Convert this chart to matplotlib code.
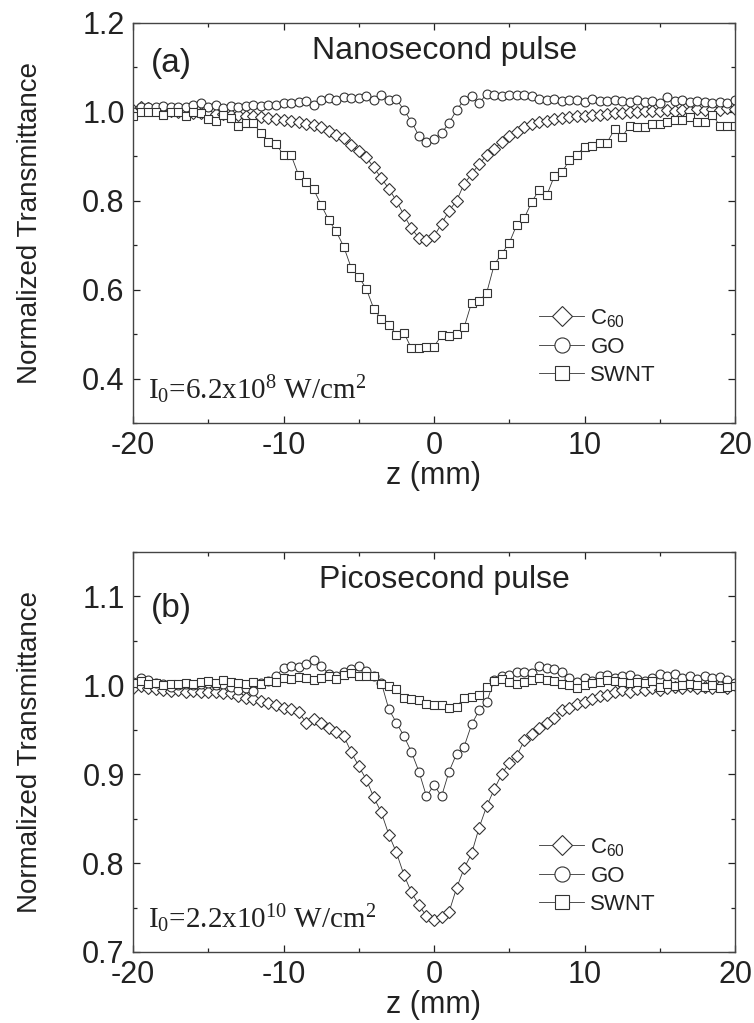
import numpy as np
import matplotlib
matplotlib.use("Agg")
import matplotlib.pyplot as plt
from matplotlib.ticker import MultipleLocator, FormatStrFormatter

# ---------------- data ----------------
z = np.linspace(-20, 20, 81)  # mm, 0.5 mm steps

# (a) nanosecond pulse
c60_a = [1.005, 1.012, 1.008, 1.005, 1.003, 1.002, 1.000, 1.000, 0.998, 0.998,
         0.996, 0.995, 0.995, 0.993, 0.992, 0.990, 0.990, 0.988, 0.986, 0.985,
         0.982, 0.980, 0.978, 0.973, 0.970, 0.966, 0.957, 0.948, 0.941, 0.925,
         0.912, 0.898, 0.875, 0.851, 0.827, 0.800, 0.768, 0.738, 0.716, 0.712,
         0.720, 0.748, 0.778, 0.800, 0.838, 0.860, 0.883, 0.902, 0.917, 0.932,
         0.945, 0.955, 0.965, 0.972, 0.977, 0.980, 0.984, 0.986, 0.988, 0.990,
         0.991, 0.993, 0.994, 0.996, 0.997, 0.998, 0.999, 1.000, 1.001, 1.002,
         1.002, 1.004, 1.002, 1.005, 1.003, 1.006, 1.004, 1.006, 1.005, 1.008,
         1.006]
go_a = [1.000, 1.010, 1.012, 1.010, 1.013, 1.010, 1.012, 1.010, 1.015, 1.021,
        1.012, 1.016, 1.008, 1.013, 1.012, 1.013, 1.015, 1.013, 1.016, 1.015,
        1.020, 1.020, 1.023, 1.025, 1.015, 1.027, 1.031, 1.027, 1.033, 1.031,
        1.031, 1.036, 1.027, 1.038, 1.027, 1.029, 1.004, 0.978, 0.946, 0.933,
        0.939, 0.952, 0.975, 1.004, 1.027, 1.036, 1.019, 1.041, 1.038, 1.036,
        1.038, 1.038, 1.038, 1.036, 1.030, 1.027, 1.030, 1.025, 1.027, 1.027,
        1.023, 1.030, 1.025, 1.025, 1.027, 1.025, 1.023, 1.027, 1.022, 1.025,
        1.020, 1.033, 1.025, 1.027, 1.023, 1.025, 1.022, 1.020, 1.023, 1.020,
        1.027]
swnt_a = [0.990, 1.000, 1.000, 1.000, 0.993, 1.000, 1.000, 0.990, 1.000, 0.998,
          0.984, 0.980, 0.993, 0.986, 0.968, 0.974, 0.974, 0.953, 0.933, 0.928,
          0.903, 0.903, 0.858, 0.843, 0.826, 0.791, 0.757, 0.731, 0.697, 0.649,
          0.629, 0.602, 0.557, 0.534, 0.521, 0.499, 0.503, 0.468, 0.468, 0.470,
          0.472, 0.497, 0.495, 0.500, 0.515, 0.571, 0.574, 0.593, 0.656, 0.681,
          0.705, 0.746, 0.761, 0.798, 0.825, 0.813, 0.856, 0.864, 0.892, 0.903,
          0.922, 0.924, 0.930, 0.931, 0.961, 0.944, 0.969, 0.967, 0.967, 0.973,
          0.973, 0.978, 0.982, 0.982, 0.989, 0.978, 0.978, 0.993, 0.969, 0.969,
          0.969]

# (b) picosecond pulse
c60_b = [0.997, 0.999, 0.997, 0.996, 0.995, 0.994, 0.995, 0.993, 0.994, 0.992,
         0.992, 0.992, 0.991, 0.991, 0.988, 0.986, 0.985, 0.982, 0.980, 0.978,
         0.974, 0.973, 0.970, 0.958, 0.962, 0.958, 0.952, 0.947, 0.943, 0.925,
         0.909, 0.894, 0.874, 0.857, 0.832, 0.812, 0.787, 0.767, 0.753, 0.740,
         0.736, 0.739, 0.745, 0.772, 0.794, 0.811, 0.840, 0.864, 0.883, 0.900,
         0.913, 0.921, 0.938, 0.945, 0.952, 0.958, 0.963, 0.972, 0.975, 0.979,
         0.981, 0.985, 0.988, 0.989, 0.992, 0.995, 0.993, 0.996, 0.995, 0.997,
         0.995, 0.997, 0.998, 0.997, 0.999, 0.997, 0.998, 0.997, 0.999, 0.997,
         1.000]
go_b = [1.004, 1.008, 1.006, 1.003, 1.002, 0.998, 1.000, 1.001, 1.000, 1.001,
        1.003, 1.000, 1.002, 0.998, 0.995, 0.997, 0.994, 1.003, 1.005, 1.010,
        1.020, 1.022, 1.021, 1.024, 1.028, 1.022, 1.013, 1.010, 1.015, 1.018,
        1.022, 1.016, 1.010, 1.003, 0.973, 0.958, 0.943, 0.925, 0.903, 0.875,
        0.888, 0.875, 0.903, 0.923, 0.931, 0.956, 0.972, 0.981, 1.006, 1.010,
        1.012, 1.015, 1.015, 1.014, 1.022, 1.019, 1.018, 1.015, 1.008, 1.004,
        1.008, 1.005, 1.010, 1.012, 1.008, 1.010, 1.012, 1.007, 1.005, 1.008,
        1.013, 1.010, 1.013, 1.008, 1.010, 1.007, 1.011, 1.008, 1.009, 1.006,
        1.003]
swnt_b = [1.003, 1.005, 1.002, 1.003, 1.000, 1.002, 1.001, 1.003, 1.001, 1.004,
          1.005, 1.003, 1.006, 1.004, 1.003, 1.002, 1.004, 1.002, 1.005, 1.004,
          1.008, 1.007, 1.009, 1.008, 1.006, 1.008, 1.010, 1.007, 1.012, 1.014,
          1.011, 1.010, 1.010, 1.002, 0.999, 0.996, 0.986, 0.985, 0.983, 0.979,
          0.978, 0.978, 0.975, 0.976, 0.986, 0.987, 0.989, 0.998, 1.005, 1.007,
          1.004, 1.002, 1.004, 1.006, 1.008, 1.006, 1.005, 1.002, 1.000, 0.997,
          1.000, 1.003, 1.004, 1.006, 1.005, 1.004, 1.003, 1.004, 1.003, 1.005,
          0.998, 1.002, 0.999, 1.000, 1.002, 1.000, 0.998, 1.000, 0.997, 0.998,
          0.999]

labels = ["C$_{60}$", "GO", "SWNT"]
titles = ["Nanosecond pulse", "Picosecond pulse"]
panel_tags = ["(a)", "(b)"]
intensity = ["I$_0$=6.2x10$^8$ W/cm$^2$", "I$_0$=2.2x10$^{10}$ W/cm$^2$"]
xticks = [-20, -10, 0, 10, 20]

# ---------------- style ----------------
plt.rcParams["font.family"] = ["Liberation Sans", "DejaVu Sans"]
plt.rcParams["mathtext.default"] = "regular"
plt.rcParams["axes.unicode_minus"] = False
ink = "#222222"

fig = plt.figure(figsize=(7.54, 10.23), dpi=100)
W, H = 754, 1023
ax_a = fig.add_axes([133 / W, 1 - 423 / H, 602 / W, 400 / H])
ax_b = fig.add_axes([133 / W, 1 - 952 / H, 602 / W, 400 / H])

panels = [
    (ax_a, [c60_a, go_a, swnt_a], (0.3, 1.2), 0.2, 0.1),
    (ax_b, [c60_b, go_b, swnt_b], (0.7, 1.15), 0.1, 0.05),
]
markers = ["D", "o", "s"]
msizes = [6.2, 6.4, 5.8]

for i, (ax, series, ylim, major, minor) in enumerate(panels):
    for vals, lab, mk, ms in zip(series, labels, markers, msizes):
        ax.plot(z, vals, marker=mk, ms=ms, mfc="white", mec="#333333", mew=0.8,
                color="#333333", lw=0.6, label=lab)
    ax.set_xlim(-20, 20)
    ax.set_ylim(*ylim)
    ax.set_xticks(xticks)
    ax.xaxis.set_minor_locator(MultipleLocator(5))
    ax.yaxis.set_major_locator(MultipleLocator(major))
    ax.yaxis.set_minor_locator(MultipleLocator(minor))
    ax.yaxis.set_major_formatter(FormatStrFormatter("%.1f"))
    ax.tick_params(which="both", direction="in", top=True, right=True,
                   colors=ink, labelsize=22, width=0.9)
    ax.tick_params(which="major", length=5)
    ax.tick_params(axis="y", which="major", pad=6)
    ax.tick_params(axis="x", which="major", pad=6)
    ax.tick_params(which="minor", length=3)
    for sp in ax.spines.values():
        sp.set_color("#444444")
        sp.set_linewidth(1.0)
    ax.set_xlabel("z (mm)", fontsize=22, color=ink, labelpad=0)
    ax.set_ylabel("Normalized Transmittance", fontsize=20, color=ink)
    ax.yaxis.set_label_coords(-0.15, 0.5)
    ax.text(0.517, 0.93, titles[i], transform=ax.transAxes, ha="center",
            va="center", fontsize=23, color=ink)
    ax.text(0.03, 0.90 if i == 0 else 0.86, panel_tags[i], transform=ax.transAxes,
            ha="left", va="center", fontsize=24, color=ink)
    ax.text(0.025, 0.06, intensity[i], transform=ax.transAxes, ha="left",
            va="baseline", fontsize=21, color=ink, family="Liberation Serif")
    leg = ax.legend(loc="upper left", bbox_to_anchor=(0.675, 0.29),
                    frameon=False, markerscale=1.7,
                    handlelength=2.0, handletextpad=0.3, labelspacing=0.32,
                    borderpad=0, borderaxespad=0, prop={"size": 16})
    for t in leg.get_texts():
        t.set_color(ink)

fig.savefig("out.png", dpi=100, facecolor="white")
